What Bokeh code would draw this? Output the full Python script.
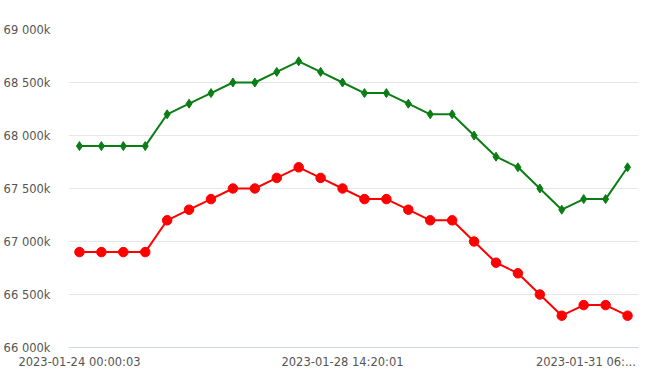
from bokeh.plotting import figure
from bokeh.models import FixedTicker, Range1d
from bokeh.embed import file_html
from bokeh.resources import INLINE

# values in thousands
green = [67900, 67900, 67900, 67900, 68200, 68300, 68400, 68500, 68500, 68600,
         68700, 68600, 68500, 68400, 68400, 68300, 68200, 68200, 68000, 67800,
         67700, 67500, 67300, 67400, 67400, 67700]
red = [66900, 66900, 66900, 66900, 67200, 67300, 67400, 67500, 67500, 67600,
       67700, 67600, 67500, 67400, 67400, 67300, 67200, 67200, 67000, 66800,
       66700, 66500, 66300, 66400, 66400, 66300]
y_ticks = [66000, 66500, 67000, 67500, 68000, 68500, 69000]
x_tick_pos = [0, 12, 23.1]
x_tick_labels = ["2023-01-24 00:00:03", "2023-01-28 14:20:01", "2023-01-31 06:..."]

idx = list(range(len(green)))

FONT = "DejaVu Sans"

p = figure(width=652, height=376, output_backend="svg", toolbar_location=None,
           x_range=Range1d(-0.5, len(green) - 0.5), y_range=Range1d(66000, 69000),
           min_border_left=60, min_border_right=14, min_border_top=29, min_border_bottom=29)
p.outline_line_color = None
p.background_fill_color = "white"
p.border_fill_color = "white"

p.xgrid.grid_line_color = None
p.ygrid.grid_line_color = "#e6e6e6"
p.ygrid.grid_line_width = 1

p.yaxis.ticker = FixedTicker(ticks=y_ticks)
p.yaxis.major_label_overrides = {t: f"{t // 1000} {t % 1000:03d}k" for t in y_ticks}
p.yaxis.axis_line_color = None
p.yaxis.major_tick_line_color = None
p.yaxis.minor_tick_line_color = None
p.yaxis.major_label_standoff = 12

p.xaxis.ticker = FixedTicker(ticks=x_tick_pos)
p.xaxis.major_label_overrides = dict(zip(x_tick_pos, x_tick_labels))
p.xaxis.axis_line_color = "#ccd6eb"
p.xaxis.major_tick_line_color = None
p.xaxis.minor_tick_line_color = None
p.xaxis.major_label_standoff = 1

for ax in (p.xaxis, p.yaxis):
    ax.major_label_text_font = FONT
    ax.major_label_text_font_size = "11.5px"
    ax.major_label_text_color = "#555555"

p.line(idx, green, line_color="#0a7d14", line_width=2)
p.scatter(idx, green, marker="diamond", size=9, fill_color="#0a7d14", line_color="#0a7d14")
p.line(idx, red, line_color="#ff0000", line_width=2)
p.scatter(idx, red, marker="circle", size=9.5, fill_color="#ff0000", line_color="#ff0000")

open("out.html", "w").write(file_html(p, INLINE))
